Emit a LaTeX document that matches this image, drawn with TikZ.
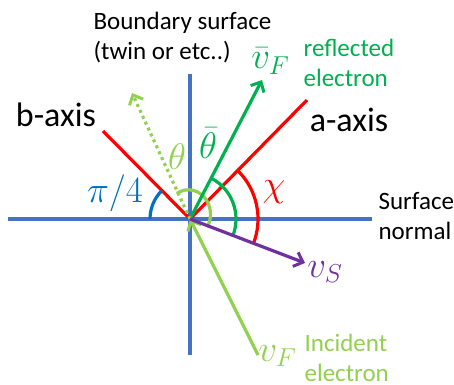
\RequirePackage{fix-cm}
\documentclass[tikz,border=0pt]{standalone}
\usepackage{fontspec}
\setmainfont{Carlito}
\usetikzlibrary{arrows.meta}
\definecolor{axblue}{RGB}{68,114,196}
\definecolor{pblue}{RGB}{0,112,192}
\definecolor{dgreen}{RGB}{0,176,80}
\definecolor{lgreen}{RGB}{146,208,80}
\definecolor{vpurple}{RGB}{112,48,160}
\begin{document}
\begin{tikzpicture}[x=1pt,y=1pt,line width=3.2pt,
  lbl/.style={inner sep=0pt,font=\fontsize{25}{30}\selectfont,align=left},
  big/.style={inner sep=0pt,font=\fontsize{34}{40}\selectfont},
  mth/.style={inner sep=0pt,font=\fontsize{37}{44}\selectfont},
  tip/.style={-{Straight Barb[length=8pt,width=15pt,line width=3pt]}},
  axis/.style={draw=axblue},
  crys/.style={draw=red}]
\useasboundingbox (-190,-165) rectangle (264,219);
% coordinates
\coordinate (O) at (0,0);
\coordinate (vt) at (0,145);
\coordinate (vb) at (0,-136);
\coordinate (hl) at (-182,0);
\coordinate (hr) at (182,0);
\coordinate (aend) at (117,119);
\coordinate (bend) at (-87,88);
\coordinate (rtip) at (72,139);
\coordinate (dtip) at (-58,126);
\coordinate (istart) at (68,-136);
\coordinate (stip) at (115,-44);
% axes
\draw[axis] (vb) -- (vt);
\draw[axis] (hl) -- (hr);
% crystal axes
\draw[crys] (O) -- (aend);
\draw[crys] (O) -- (bend);
% arcs
\draw[pblue] (O) ++(180:40) arc[start angle=180,end angle=135,radius=40];
\draw[red] (O) ++(-21:68) arc[start angle=-21,end angle=45,radius=68];
\draw[dgreen] (O) ++(-22:46) arc[start angle=-22,end angle=62,radius=46];
\draw[lgreen] (-1,6) ++(122:23) arc[start angle=122,end angle=-32,x radius=22,y radius=24.5];
% vectors
\draw[tip,dgreen] (O) -- (rtip);
\draw[tip,lgreen,dash pattern=on 3pt off 3.5pt] (O) -- (dtip);
\draw[tip,lgreen] (istart) -- (O);
\draw[tip,vpurple] (O) -- (stip);
% labels
\node[lbl,anchor=west] (bnd) at (-98,181) {Boundary surface\\(twin or etc..)};
\node[big] (bax) at (-134,104.5) {b-axis};
\node[big] (aax) at (159,99) {a-axis};
\node[lbl,anchor=west,text=dgreen] (refl) at (112,156.5) {reflected\\electron};
\node[lbl,anchor=west] (sn) at (187,2.5) {Surface\\normal};
\node[lbl,anchor=west,text=lgreen] (inc) at (113,-139) {Incident\\electron};
\node[mth,text=pblue] (pi4) at (-75,26) {$\pi/4$};
\node[mth,text=lgreen] (th) at (-13,62) {$\theta$};
\node[mth,text=dgreen] (thb) at (18,76) {$\bar\theta$};
\node[mth,text=red] (chi) at (84,27) {$\chi$};
\node[mth,text=dgreen,anchor=east] (vbf) at (101,158) {$\bar v_F$};
\node[mth,text=vpurple] (vs) at (135,-53) {$v_S$};
\node[mth,text=lgreen,anchor=east] (vf) at (108,-137) {$v_F$};
\end{tikzpicture}
\end{document}
